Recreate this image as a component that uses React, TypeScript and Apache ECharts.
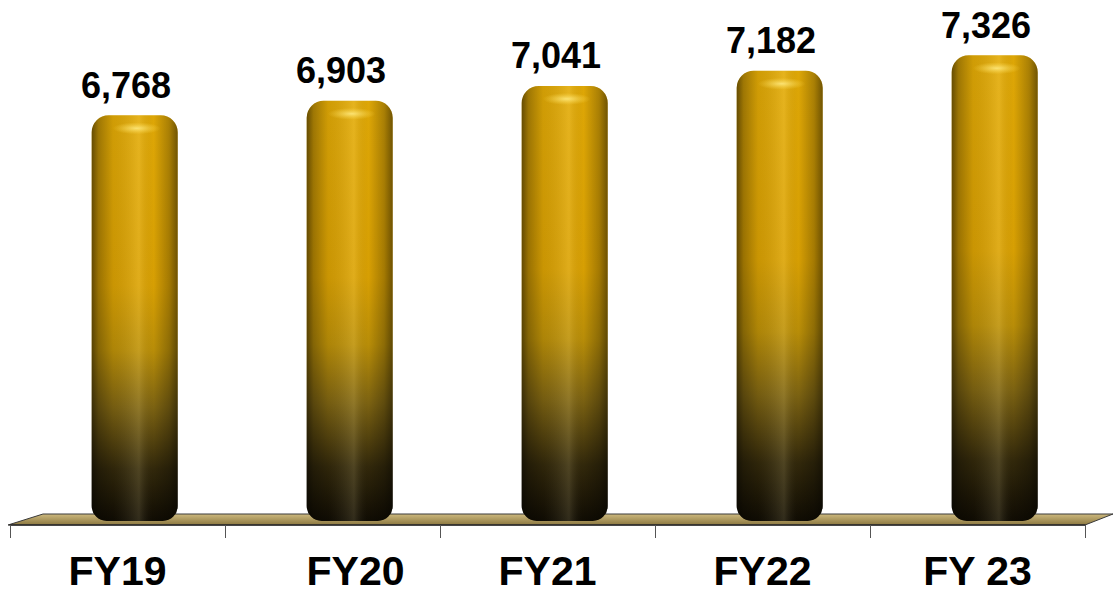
import React, { useEffect, useRef } from "react";
import * as echarts from "echarts";

const categories = ["FY19", "FY20", "FY21", "FY22", "FY 23"];
const values = [6768, 6903, 7041, 7182, 7326];
const yMin = 3000;
const yMax = 7500;

const fmt = (v: number) => v.toLocaleString("en-US");

export default function App() {
  const ref = useRef<HTMLDivElement>(null);
  useEffect(() => {
    document.body.style.margin = "0";
    const chart = echarts.init(ref.current!, null, { renderer: "svg" });
    const font = "'Liberation Sans', Arial, Helvetica, sans-serif";
    chart.setOption({
      animation: false,
      backgroundColor: "#ffffff",
      grid: { left: 10, right: 29, top: 36.5, bottom: 72 },
      xAxis: {
        type: "category",
        data: categories,
        offset: 4,
        axisLine: { show: true, lineStyle: { color: "#2a2a2a", width: 1.5 } },
        axisTick: { show: true, interval: 0, length: 13, lineStyle: { color: "#555", width: 1 } },
        axisLabel: {
          interval: 0,
          hideOverlap: false,
          margin: 28,
          fontSize: 41,
          lineHeight: 36,
          fontWeight: "bold",
          color: "#000",
          fontFamily: font,
          formatter: (v: string) => (v === "FY20" ? `{s|${v}}` : v),
          rich: {
            s: {
              fontSize: 41,
              lineHeight: 36,
              fontWeight: "bold",
              color: "#000",
              fontFamily: font,
              padding: [0, 0, 0, 46],
            },
          },
        },
      },
      yAxis: {
        type: "value",
        min: yMin,
        max: yMax,
        show: false,
        splitLine: { show: false },
      },
      graphic: [
        {
          type: "polygon",
          z: 0,
          shape: { points: [[8, 525], [43, 514], [1113, 514], [1085, 525]] },
          style: {
            fill: new echarts.graphic.LinearGradient(0, 0, 0, 1, [
              { offset: 0, color: "#CDB97E" },
              { offset: 1, color: "#8C7840" },
            ]),
            stroke: "#3a3a3a",
            lineWidth: 1,
          },
        },
      ],
      series: [
        {
          type: "custom",
          z: 5,
          data: values.map((v, i) => [i, v]),
          renderItem: (params: any, api: any) => {
            const v = api.value(1);
            const top = api.coord([api.value(0), v]);
            const base = api.coord([api.value(0), yMin]);
            const band = api.size([1, 0])[0];
            const bw = band * 0.4;
            const cx = top[0] + band * 0.08;
            const x = cx - bw / 2;
            const h = base[1] - top[1];
            const shape = { x, y: top[1], width: bw, height: h, r: [17, 17, 15, 15] };
            return {
              type: "group",
              children: [
                {
                  type: "rect",
                  shape,
                  style: {
                    fill: new echarts.graphic.LinearGradient(0, 0, 0, 1, [
                      { offset: 0, color: "#E2AA06" },
                      { offset: 0.42, color: "#DBA203" },
                      { offset: 0.58, color: "#BC9008" },
                      { offset: 0.72, color: "#7E6412" },
                      { offset: 0.87, color: "#33290B" },
                      { offset: 1, color: "#100C03" },
                    ]),
                  },
                },
                {
                  type: "rect",
                  shape,
                  style: {
                    fill: new echarts.graphic.LinearGradient(0, 0, 1, 0, [
                      { offset: 0, color: "rgba(0,0,0,0.55)" },
                      { offset: 0.08, color: "rgba(0,0,0,0.3)" },
                      { offset: 0.25, color: "rgba(0,0,0,0.08)" },
                      { offset: 0.55, color: "rgba(255,240,180,0.14)" },
                      { offset: 0.72, color: "rgba(0,0,0,0.02)" },
                      { offset: 0.9, color: "rgba(0,0,0,0.25)" },
                      { offset: 1, color: "rgba(0,0,0,0.5)" },
                    ]),
                  },
                },
                {
                  type: "ellipse",
                  shape: { cx: cx + 2, cy: top[1] + 13, rx: 24, ry: 6 },
                  style: {
                    fill: new echarts.graphic.RadialGradient(0.5, 0.5, 0.5, [
                      { offset: 0, color: "rgba(255,235,130,0.85)" },
                      { offset: 1, color: "rgba(255,220,80,0)" },
                    ]),
                  },
                },
                {
                  type: "text",
                  style: {
                    text: fmt(v),
                    x: top[0] + band * 0.04,
                    y: top[1] - 30,
                    align: "center",
                    verticalAlign: "middle",
                    font: `bold 36px ${font}`,
                    fill: "#000",
                  },
                },
              ],
            };
          },
        },
      ],
    });
    return () => chart.dispose();
  }, []);
  return <div ref={ref} style={{ position: "fixed", left: 0, top: 0, width: 1114, height: 593 }} />;
}
